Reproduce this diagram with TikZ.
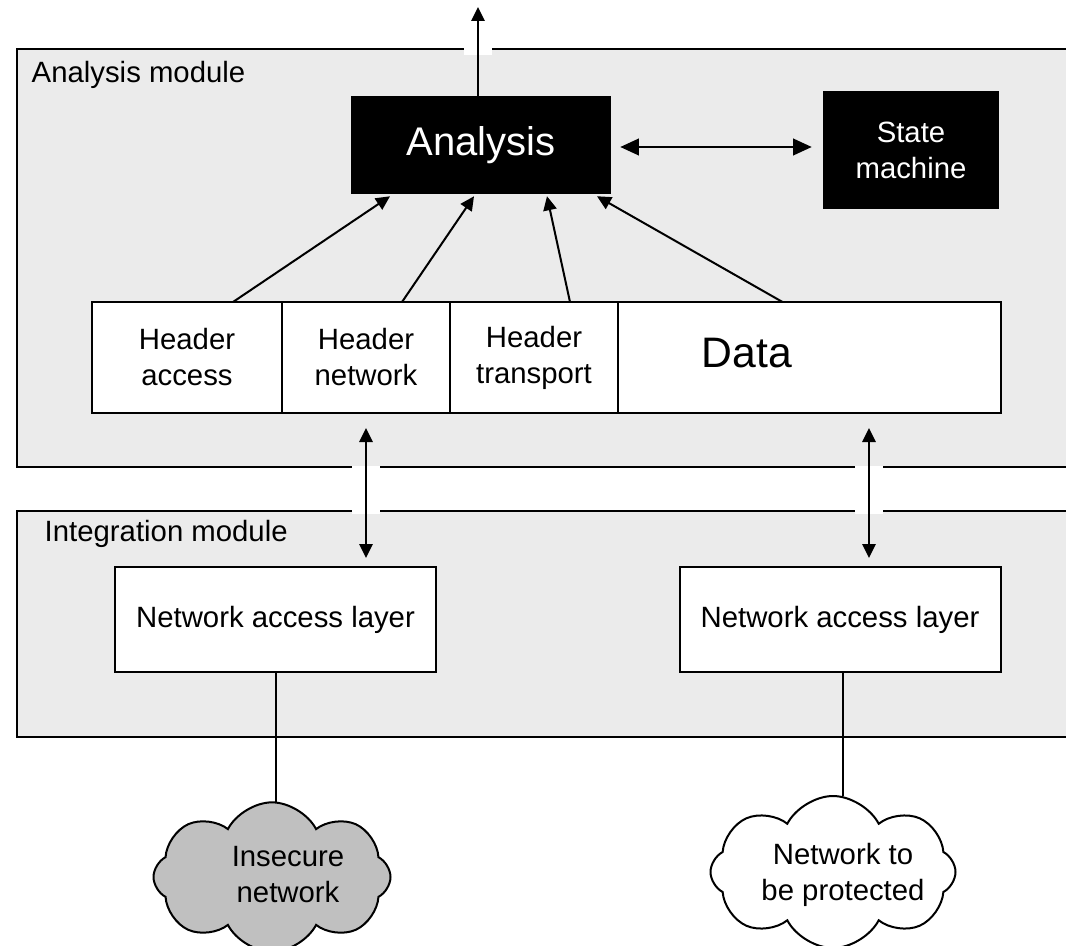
\documentclass[tikz,border=0pt]{standalone}
\usepackage{fontspec}
\setmainfont{Liberation Sans}
\usetikzlibrary{arrows.meta}
\usetikzlibrary{calc}
\usetikzlibrary{positioning}
\usetikzlibrary{shapes.symbols}
\definecolor{modulegray}{HTML}{EBEBEB}
\definecolor{cloudgray}{HTML}{C0C0C0}
\newcommand{\boxfont}{\fontsize{22}{27}\selectfont}
\newcommand{\titlefont}{\fontsize{30}{36}\selectfont}
\newcommand{\datafont}{\fontsize{32}{38}\selectfont}
\tikzstyle{blackbox}=[rectangle, fill=black, text=white, inner sep=0pt, align=center, font=\boxfont]
\tikzstyle{cell}=[rectangle, draw, fill=white, line width=1.5pt, inner sep=0pt, outer sep=0pt, minimum height=83.25pt, align=center, font=\boxfont]
\tikzstyle{link}=[line width=1.5pt, -{Triangle[length=10.5pt,width=10pt]}]
\tikzstyle{twoway}=[line width=1.5pt, {Triangle[length=10.5pt,width=10pt]}-{Triangle[length=10.5pt,width=10pt]}]
\tikzstyle{wideway}=[line width=1.5pt, {Triangle[length=14pt,width=12.5pt]}-{Triangle[length=14pt,width=12.5pt]}]
\tikzstyle{netcloud}=[cloud, draw, line width=1.5pt, cloud puffs=8, cloud puff arc=125, aspect=1.5, inner sep=0pt, outer sep=0pt]
\tikzstyle{cloudtext}=[align=center, font=\boxfont]
\newcommand{\bordergap}[3]{ % Syntax: {x of arrow}{top}{bottom}
  \fill[white] (#1-14,#2) rectangle (#1+14,#3);
}

\begin{document}
\begin{tikzpicture}[x=0.75pt, y=-0.75pt]
\useasboundingbox (0,0) rectangle (1066,945);
% module frames, open to the right
\fill[modulegray] (17,49) rectangle (1070,467);
\draw[line width=1.5pt] (1070,49) -- (17,49) -- (17,467) -- (1070,467);
\node[anchor=base west, font=\boxfont] (amlabel) at (27,83) {Analysis module};
\fill[modulegray] (17,511) rectangle (1070,737);
\draw[line width=1.5pt] (1070,511) -- (17,511) -- (17,737) -- (1070,737);
\node[anchor=base west, font=\boxfont] (imlabel) at (40,541) {Integration module};
% white gaps where the arrows pass the frames
\bordergap{478}{43}{55}
\bordergap{366}{466}{514}
\bordergap{869}{466}{514}
% analysis and state machine
\node[blackbox, minimum width=195pt, minimum height=73.5pt, font=\titlefont] (analysis) at (481,145) {Analysis};
\node[blackbox, minimum width=132pt, minimum height=87.75pt] (state) at (911,150) {State\\machine};
% packet fields
\node[cell, minimum width=142.5pt] (hacc) at (187,357.5) {Header\\access};
\node[cell, minimum width=126pt, right=0pt of hacc] (hnet) {Header\\network};
\node[cell, minimum width=126pt, right=0pt of hnet] (htra) {Header\\transport};
\node[cell, minimum width=287.25pt, right=0pt of htra] (data) {};
\node[font=\datafont] (datatxt) at (747,353) {Data};
% network access layers
\node[cell, minimum width=240.75pt, minimum height=78.75pt] (nal1) at (275.5,619.5) {Network access layer};
\node[cell, minimum width=240.75pt, minimum height=78.75pt] (nal2) at (840,619.5) {Network access layer};
% networks
\node[netcloud, fill=cloudgray, minimum width=177.75pt, minimum height=112pt] (insecure) at (272,877) {};
\node[cloudtext] (insecuretxt) at (288,875) {Insecure\\network};
\node[netcloud, fill=white, minimum width=183.75pt, minimum height=114pt] (protected) at (833,872) {};
\node[cloudtext] (protectedtxt) at (843,875) {Network to\\be protected};
% arrows
\coordinate (out) at (478,7);
\draw[link] (analysis.north -| out) -- (out);
\draw[wideway] ($(analysis.east)+(9,2)$) -- ($(analysis.east -| state.west)+(-11,2)$);
\draw[link] ($(hacc.north)+(46,0)$) -- ($(analysis.south)+(-91,2)$);
\draw[link] ($(hnet.north)+(36,0)$) -- ($(analysis.south)+(-7,2)$);
\draw[link] ($(htra.north)+(36,0)$) -- ($(analysis.south)+(66,2)$);
\draw[link] ($(data.north)+(-27,0)$) -- ($(analysis.south)+(116,2)$);
\draw[twoway] ($(hnet.south)+(0,15)$) -- ($(hnet.south |- nal1.north)+(0,-9)$);
\draw[twoway] ($(data.south east)+(-132,15)$) -- ($(data.south east |- nal2.north)+(-132,-9)$);
% lines to the networks
\draw[line width=1.5pt] (nal1.south) -- (nal1.south |- insecure.north);
\draw[line width=1.5pt] ($(nal2.south)+(3,0)$) -- ($(nal2.south |- protected.north)+(3,0)$);
\end{tikzpicture}
\end{document}
